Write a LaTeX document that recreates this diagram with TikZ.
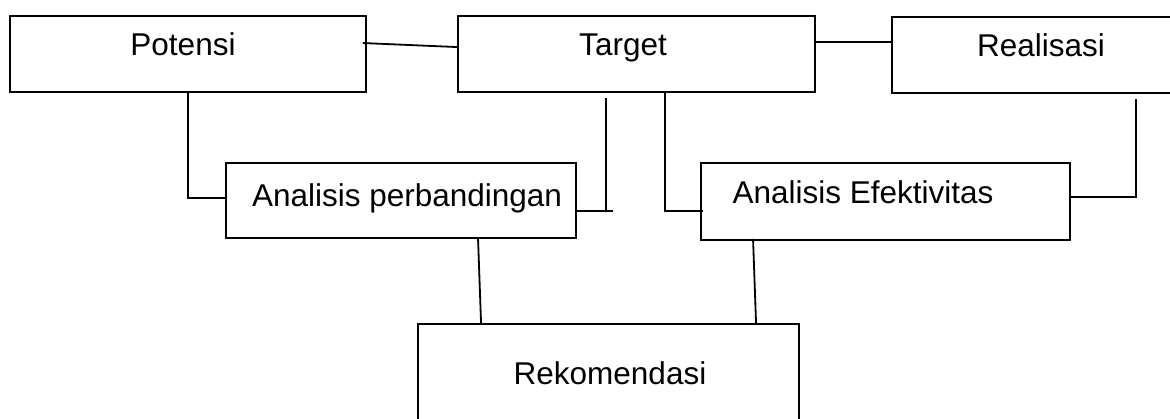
\documentclass[tikz,border=0pt]{standalone}
\usepackage{fontspec}
\setmainfont{Liberation Sans}
\usetikzlibrary{calc}
\begin{document}
\begin{tikzpicture}[x=1pt,y=-1pt,
  box/.style={draw, line width=1.9pt, inner sep=0pt},
  txt/.style={font=\fontsize{31.5}{36}\selectfont, inner sep=0pt, anchor=base},
  conn/.style={line width=1.8pt}]
\useasboundingbox (0,0) rectangle (1170,419);
\clip (0,0) rectangle (1170,419);
% boxes
\node[box, minimum width=356pt, minimum height=76pt] (potensi) at (188,54) {};
\node[box, minimum width=357pt, minimum height=76pt] (target) at (636.5,54) {};
\node[box, minimum width=310pt, minimum height=76pt] (realisasi) at (1047,55) {};
\node[box, minimum width=350pt, minimum height=75pt] (ap) at (401,200.5) {};
\node[box, minimum width=369pt, minimum height=77pt] (ae) at (885.5,201.5) {};
\node[box, minimum width=381pt, minimum height=110pt] (rek) at (608.5,379) {};
% texts
\node[txt] (tpotensi) at (183,56) {Potensi};
\node[txt] (ttarget) at (623,56) {Target};
\node[txt] (trealisasi) at (1041,57) {Realisasi};
\node[txt] (tap) at (407,207) {Analisis perbandingan};
\node[txt] (tae) at (863,204) {Analisis Efektivitas};
\node[txt] (trek) at (610,385) {Rekomendasi};
% connectors
\draw[conn] ($(potensi.north east)+(-4,28)$) -- ($(target.north west)+(0,32)$);
\draw[conn] ($(target.north east)+(0,27)$) -- ($(realisasi.north west)+(0,26)$);
\draw[conn] ($(potensi.south west)+(179,0)$) |- ($(ap.north west)+(0,36)$);
\coordinate (tgt1) at ($(target.south west)+(149,5)$);
\coordinate (tgt2) at ($(ap.north east)+(31,49)$);
\draw[conn] (tgt1) -- (tgt1 |- tgt2);
\draw[conn] ($(ap.north east)+(0,49)$) -- ($(tgt2)+(5,0)$);
\draw[conn] ($(target.south west)+(208,0)$) |- ($(ae.north west)+(3,49)$);
\coordinate (rea1) at ($(realisasi.south west)+(245,5)$);
\draw[conn] (rea1) |- ($(ae.north east)+(0,35)$);
\draw[conn] ($(ap.south west)+(253,0)$) -- ($(rek.north west)+(64,0)$);
\draw[conn] ($(ae.south west)+(53,-2)$) -- ($(rek.north west)+(339,0)$);
\end{tikzpicture}
\end{document}
